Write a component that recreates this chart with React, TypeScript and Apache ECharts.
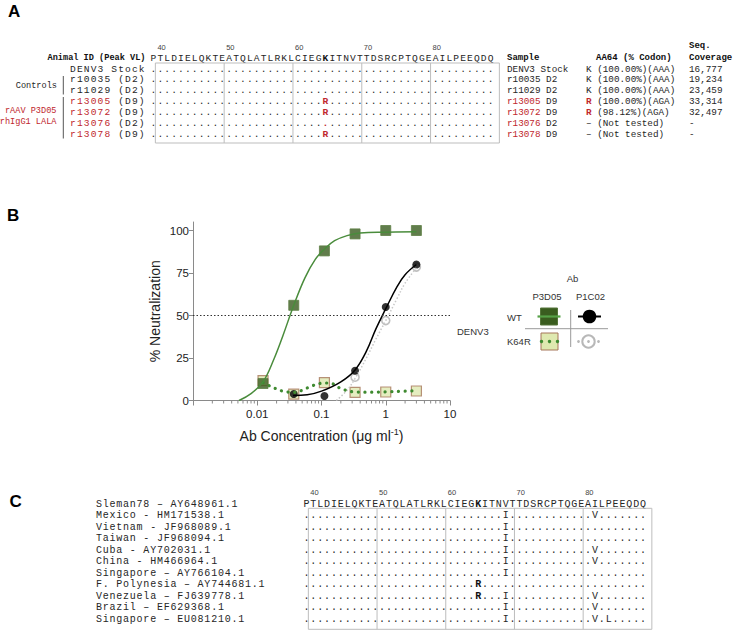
import React, { useEffect, useRef } from "react";
import * as echarts from "echarts";

const W = 733;
const H = 631;
const MONO = "'Liberation Mono', 'DejaVu Sans Mono', monospace";
const SANS = "'Liberation Sans', Arial, Helvetica, sans-serif";
const RED = "#c0272d";
const INK = "#262626";

// ---------------- Shared sequence ----------------
const refSeq = "PTLDIELQKTEATQLATLRKLCIEGKITNVTTDSRCPTQGEAILPEEQDQ";
const firstResidue = 39; // residue number of the first letter
const positionLabels = [40, 50, 60, 70, 80];
const keyResidue = 64; // K64 (shown bold)

// ---------------- Panel A ----------------
const animalIds = ["DENV3 Stock", "r10035", "r11029", "r13005", "r13072", "r13076", "r13078"];
const peakDay = ["", "D2", "D2", "D9", "D9", "D2", "D9"];
const treated = [false, false, false, true, true, true, true];
const aa64Observed = ["", "", "", "R", "R", ".", "R"];
const aa64Call = ["K", "K", "K", "R", "R", "–", "–"];
const aa64Detail = [
  "(100.00%)(AAA)",
  "(100.00%)(AAA)",
  "(100.00%)(AAA)",
  "(100.00%)(AGA)",
  "(98.12%)(AGA)",
  "(Not tested)",
  "(Not tested)",
];
const seqCoverage = ["16,777", "19,234", "23,459", "33,314", "32,497", "-", "-"];

// ---------------- Panel B ----------------
const concentrations = [0.0123, 0.037, 0.111, 0.333, 1, 3];
const p3d05WT = [10, 56, 88, 98, 100, 100];
const p3d05K64R = [11.7, 3.8, 10.5, 4.8, 5.0, 5.6];
const p1c02WTConc = [0.037, 0.111, 0.333, 1, 3];
const p1c02WT = [3.8, 2.6, 17.5, 55, 80];
const p1c02K64RConc = [0.333, 1, 3];
const p1c02K64R = [13.7, 47, 78.5];
// fitted curves
const p3d05WTFitX = [0.0052, 0.008, 0.0123, 0.018, 0.025, 0.037, 0.055, 0.08, 0.111, 0.16, 0.25, 0.4, 1, 3];
const p3d05WTFitY = [0, 4, 11, 24, 38, 56, 72, 83, 89, 94, 97, 98.5, 99, 99.3];
const p3d05K64RFitX = [0.0123, 0.018, 0.025, 0.037, 0.05, 0.07, 0.111, 0.15, 0.2, 0.333, 0.6, 1, 2, 3];
const p3d05K64RFitY = [10.5, 7.5, 5.5, 4.8, 6, 8.5, 10.3, 9.8, 7, 5, 4.9, 5.1, 5.5, 5.8];
const p1c02WTFitX = [0.036, 0.06, 0.1, 0.2, 0.333, 0.5, 0.7, 1, 1.5, 2, 3];
const p1c02WTFitY = [3, 3.4, 5.5, 11, 18, 29, 42, 54, 67, 74, 80];
const p1c02K64RFitX = [0.17, 0.25, 0.333, 0.5, 0.7, 1, 1.5, 2, 3];
const p1c02K64RFitY = [0, 6, 13, 25, 36, 47, 60, 69, 78];
const xTickLabels = ["", "0.01", "0.1", "1", "10"]; // decades 0.001 .. 10
const yTickValues = [0, 25, 50, 75, 100];
const minorMultipliers = [2, 3, 4, 5, 6, 7, 8, 9];
const minorDecades = [0.001, 0.01, 0.1, 1];

// ---------------- Panel C ----------------
const strainNames = [
  "Sleman78 – AY648961.1",
  "Mexico - HM171538.1",
  "Vietnam - JF968089.1",
  "Taiwan - JF968094.1",
  "Cuba - AY702031.1",
  "China - HM466964.1",
  "Singapore – AY766104.1",
  "F. Polynesia – AY744681.1",
  "Venezuela – FJ639778.1",
  "Brazil – EF629368.1",
  "Singapore – EU081210.1",
];
const strainMutations: string[][] = [
  [],
  ["V68I", "I81V"],
  ["V68I"],
  ["V68I"],
  ["V68I", "I81V"],
  ["V68I", "I81V"],
  ["V68I"],
  ["K64R"],
  ["K64R", "V68I", "I81V"],
  ["V68I", "I81V"],
  ["V68I", "I81V", "P83L"],
];

// ---------------- helpers ----------------
type Glyph = { ch: string; fill?: string; fw?: string };

function text(x: number, y: number, t: string, o: any = {}) {
  return {
    type: "text",
    x,
    y,
    silent: true,
    style: {
      text: t,
      fontFamily: o.ff ?? MONO,
      fontSize: o.fs ?? 11,
      fontWeight: o.fw ?? "normal",
      fill: o.fill ?? INK,
      textAlign: o.align ?? "left",
      textVerticalAlign: "middle",
      rich: o.rich,
    },
  };
}

function line(x1: number, y1: number, x2: number, y2: number, stroke = "#bdbdbd", lw = 1) {
  return { type: "line", silent: true, shape: { x1, y1, x2, y2 }, style: { stroke, lineWidth: lw } };
}

// one text per character on a fixed-pitch grid (letter-spaced monospace)
function glyphRow(x0: number, cw: number, y: number, glyphs: Glyph[], fs: number) {
  const out: any[] = [];
  glyphs.forEach((g, i) => {
    if (g.ch === " ") return;
    out.push(text(x0 + (i + 0.5) * cw, y, g.ch, { fs, fill: g.fill ?? INK, fw: g.fw ?? "normal", align: "center" }));
  });
  return out;
}

const plain = (s: string, fill = INK, fw = "normal"): Glyph[] => s.split("").map((ch) => ({ ch, fill, fw }));

// marks: [residueNumber, letter, fill, weight]
function alignmentGlyphs(marks: [number, string, string, string][]): Glyph[] {
  return refSeq.split("").map((_, i) => {
    const m = marks.find((mm) => mm[0] - firstResidue === i);
    return m ? { ch: m[1], fill: m[2], fw: m[3] } : { ch: "." };
  });
}

function headerGlyphs(): Glyph[] {
  return refSeq.split("").map((ch, i) =>
    i === keyResidue - firstResidue ? { ch, fill: "#111", fw: "bold" } : { ch }
  );
}

function alignmentBlock(
  seqX: number, cw: number, fs: number, headerY: number, rowY: number[],
  boxTop: number, boxBottom: number, numY: number, rows: Glyph[][]
) {
  const els: any[] = [];
  positionLabels.forEach((p) => {
    els.push(text(seqX + (p - firstResidue) * cw + 0.5, numY, String(p), { ff: SANS, fs: 7.5, fill: "#444" }));
  });
  els.push(...glyphRow(seqX, cw, headerY, headerGlyphs(), fs));
  const off = 0.78;
  const left = seqX + off * cw;
  const right = seqX + (refSeq.length + off) * cw;
  els.push({
    type: "rect",
    silent: true,
    shape: { x: left, y: boxTop, width: right - left, height: boxBottom - boxTop },
    style: { fill: "none", stroke: "#bdbdbd", lineWidth: 1 },
  });
  for (let k = 1; k < 5; k++) {
    const x = seqX + (10 * k + off) * cw;
    els.push(line(x, boxTop, x, boxBottom));
  }
  rows.forEach((r, i) => els.push(...glyphRow(seqX, cw, rowY[i], r, fs)));
  return els;
}

const richSet = (fs: number) => ({
  n: { fontFamily: MONO, fontSize: fs, fill: INK },
  r: { fontFamily: MONO, fontSize: fs, fill: RED },
  rb: { fontFamily: MONO, fontSize: fs, fill: RED, fontWeight: "bold" },
});

function buildGraphics() {
  const g: any[] = [];
  // panel letters
  g.push(text(8, 11.5, "A", { ff: SANS, fs: 17, fw: "bold", fill: "#000" }));
  g.push(text(7, 215.5, "B", { ff: SANS, fs: 17, fw: "bold", fill: "#000" }));
  g.push(text(9.5, 501.5, "C", { ff: SANS, fs: 17, fw: "bold", fill: "#000" }));

  // ---------- Panel A ----------
  const cwA = 6.88;
  const fsA = 9.6;
  const seqXA = 150;
  const rowYA = animalIds.map((_, i) => 69 + i * 10.9);
  const rowsA = aa64Observed.map((m) =>
    alignmentGlyphs(m ? [[keyResidue, m, RED, "bold"]] : [])
  );
  g.push(...alignmentBlock(seqXA, cwA, fsA, 58, rowYA, 63, 143, 47, rowsA));
  g.push(text(145.5, 58, "Animal ID (Peak VL)", { fs: 8.6, fw: "bold", align: "right", fill: "#111" }));
  animalIds.forEach((id, i) => {
    const glyphs = peakDay[i]
      ? [...plain(id, treated[i] ? RED : INK), ...plain(` (${peakDay[i]})`)]
      : plain(id);
    g.push(...glyphRow(69.5, cwA, rowYA[i], glyphs, fsA));
  });
  g.push(text(57, 85.5, "Controls", { fs: 8.6, align: "right" }));
  g.push(line(63.3, 76, 63.3, 94.5, "#555"));
  g.push(text(56.5, 111, "rAAV P3D05", { fs: 8.6, align: "right", fill: RED }));
  g.push(text(56.5, 121.7, "rhIgG1 LALA", { fs: 8.6, align: "right", fill: RED }));
  g.push(line(63.3, 97, 63.3, 138.5, "#555"));

  // right-hand table
  const fsT = 9.3;
  g.push(text(507, 58, "Sample", { fs: 9, fw: "bold", fill: "#111" }));
  g.push(text(596, 58, "AA64 (% Codon)", { fs: 9, fw: "bold", fill: "#111" }));
  g.push(text(689, 46, "Seq.", { fs: 9, fw: "bold", fill: "#111" }));
  g.push(text(689, 58, "Coverage", { fs: 9, fw: "bold", fill: "#111" }));
  animalIds.forEach((id, i) => {
    const sample = peakDay[i] ? `{${treated[i] ? "r" : "n"}|${id}}{n| ${peakDay[i]}}` : `{n|${id}}`;
    g.push(text(507, rowYA[i], sample, { fs: fsT, rich: richSet(fsT) }));
    const call = aa64Call[i] === "R" ? `{rb|R}` : `{n|${aa64Call[i]}}`;
    g.push(text(586, rowYA[i], `${call}{n| ${aa64Detail[i]}}`, { fs: fsT, rich: richSet(fsT) }));
    g.push(text(689, rowYA[i], seqCoverage[i], { fs: fsT }));
  });

  // ---------- Panel B legend ----------
  const lf = 9.5;
  g.push(text(572.5, 278.5, "Ab", { ff: SANS, fs: lf, align: "center", fill: "#333" }));
  g.push(text(547, 296, "P3D05", { ff: SANS, fs: lf, align: "center", fill: "#333" }));
  g.push(text(590.5, 296, "P1C02", { ff: SANS, fs: lf, align: "center", fill: "#333" }));
  g.push(text(507, 317.5, "WT", { ff: SANS, fs: lf, fill: "#333" }));
  g.push(text(507, 341.5, "K64R", { ff: SANS, fs: lf, fill: "#333" }));
  g.push(text(457, 331, "DENV3", { ff: SANS, fs: lf, fill: "#333" }));
  g.push(line(525, 328.7, 608, 328.7, "#999"));
  g.push(line(570.7, 310, 570.7, 347, "#999"));
  g.push({ type: "rect", silent: true, shape: { x: 540.5, y: 308, width: 17, height: 17 }, style: { fill: "#3a5d1f", stroke: "#55753a", lineWidth: 1 } });
  g.push(line(537.5, 316.5, 560.5, 316.5, "#56a146", 2.2));
  g.push(line(578, 316.5, 601, 316.5, "#000", 2));
  g.push({ type: "circle", silent: true, shape: { cx: 589.5, cy: 316.5, r: 6.8 }, style: { fill: "#000" } });
  g.push({ type: "rect", silent: true, shape: { x: 541, y: 333, width: 17, height: 17 }, style: { fill: "#dfe9b0", stroke: "#a6775a", lineWidth: 1 } });
  [541.5, 549.5, 557.5].forEach((cx) =>
    g.push({ type: "circle", silent: true, shape: { cx, cy: 341.5, r: 1.7 }, style: { fill: "#3f8a30" } })
  );
  g.push({ type: "circle", silent: true, shape: { cx: 588.5, cy: 341.5, r: 6.2 }, style: { fill: "#fff", stroke: "#b8b8b8", lineWidth: 2 } });
  [578.5, 588.5, 598.5].forEach((cx) =>
    g.push({ type: "circle", silent: true, shape: { cx, cy: 341.5, r: 1.4 }, style: { fill: "#b8b8b8" } })
  );

  // ---------- Panel C ----------
  const cwC = 6.87;
  const fsC = 10;
  const seqXC = 303;
  const rowYC = strainNames.map((_, i) => 504 + i * 11.53);
  strainNames.forEach((n, i) => g.push(...glyphRow(95.5, 6.78, rowYC[i], plain(n), fsC)));
  const rowsC = strainMutations.slice(1).map((muts) =>
    alignmentGlyphs(
      muts.map((m) => {
        const pos = parseInt(m.slice(1, -1), 10);
        const to = m[m.length - 1];
        return [pos, to, pos === keyResidue ? "#111" : INK, pos === keyResidue ? "bold" : "normal"] as [number, string, string, string];
      })
    )
  );
  g.push(...alignmentBlock(seqXC, cwC, fsC, rowYC[0], rowYC.slice(1), 508.3, 629.3, 492.3, rowsC));
  return g;
}

function buildOption() {
  const pairs = (xs: number[], ys: number[]) => xs.map((x, i) => [x, ys[i]]);
  const minorTicks: number[][] = [];
  minorDecades.forEach((d) => minorMultipliers.forEach((m) => minorTicks.push([d * m, 0])));
  const axisColor = "#8a8a8a";
  return {
    animation: false,
    backgroundColor: "#fff",
    grid: { left: 193, right: W - 450, top: 222, bottom: H - 400.5, containLabel: false },
    xAxis: {
      type: "log",
      logBase: 10,
      min: 0.001,
      max: 10,
      axisLine: { show: true, lineStyle: { color: axisColor, width: 1 } },
      axisTick: { show: true, length: 5, lineStyle: { color: axisColor } },
      axisLabel: {
        color: "#222",
        fontFamily: SANS,
        fontSize: 11.5,
        margin: 7,
        formatter: (v: number) => xTickLabels[Math.round(Math.log10(v)) + 3] ?? "",
      },
      splitLine: { show: false },
      minorTick: { show: false },
      name: "{n|Ab Concentration (μg ml}{s|-1}{n|)}",
      nameLocation: "middle",
      nameGap: 27,
      nameTextStyle: {
        rich: {
          n: { fontFamily: SANS, fontSize: 14, color: "#222" },
          s: { fontFamily: SANS, fontSize: 9, color: "#222", verticalAlign: "top", padding: [0, 0, 7, 0] },
        },
      },
    },
    yAxis: {
      type: "value",
      min: 0,
      max: 105,
      interval: 25,
      axisLine: { show: true, lineStyle: { color: axisColor, width: 1 } },
      axisTick: { show: true, length: 4, lineStyle: { color: axisColor }, customValues: yTickValues },
      axisLabel: {
        color: "#222",
        fontFamily: SANS,
        fontSize: 11.5,
        margin: 4,
        customValues: yTickValues,
        formatter: (v: number) => (v > 100 ? "" : String(v)),
      },
      splitLine: { show: false },
      name: "% Neutralization",
      nameLocation: "middle",
      nameGap: 31,
      nameRotate: 90,
      nameTextStyle: { fontFamily: SANS, fontSize: 14, color: "#222" },
    },
    graphic: { elements: buildGraphics() },
    series: [
      {
        type: "custom",
        silent: true,
        clip: false,
        data: minorTicks,
        encode: { x: 0, y: 1 },
        renderItem: (_p: any, api: any) => {
          const pt = api.coord([api.value(0), 0]);
          return {
            type: "line",
            shape: { x1: pt[0], y1: pt[1], x2: pt[0], y2: pt[1] + 3 },
            style: { stroke: axisColor, lineWidth: 1 },
          };
        },
      },
      {
        type: "line",
        data: pairs(p1c02K64RFitX, p1c02K64RFitY),
        symbol: "none",
        smooth: 0.4,
        silent: true,
        lineStyle: { color: "#c8c8c8", width: 1.5, type: [1.5, 2] },
        markLine: {
          silent: true,
          symbol: ["none", "none"],
          label: { show: false },
          lineStyle: { color: "#333", width: 1, type: [1.5, 2] },
          data: [{ yAxis: 50 }],
        },
      },
      {
        type: "line",
        data: pairs(p3d05K64RFitX, p3d05K64RFitY),
        symbol: "none",
        smooth: 0.35,
        silent: true,
        lineStyle: { color: "#3f8a30", width: 3.2, type: [0.1, 6.6], cap: "round" },
      },
      {
        type: "line",
        data: pairs(p3d05WTFitX, p3d05WTFitY),
        symbol: "none",
        smooth: 0.4,
        silent: true,
        lineStyle: { color: "#4a8c3c", width: 1.5 },
      },
      {
        type: "line",
        data: pairs(p1c02WTFitX, p1c02WTFitY),
        symbol: "none",
        smooth: 0.4,
        silent: true,
        lineStyle: { color: "#000", width: 1.5 },
      },
      {
        type: "scatter",
        data: pairs(concentrations, p3d05K64R),
        symbol: "rect",
        symbolSize: 10,
        silent: true,
        itemStyle: { color: "#dfe9b0", borderColor: "#a6775a", borderWidth: 1.2 },
      },
      {
        type: "scatter",
        data: pairs(p1c02K64RConc, p1c02K64R),
        symbol: "circle",
        symbolSize: 8,
        silent: true,
        itemStyle: { color: "#fff", borderColor: "#b0b0b0", borderWidth: 1.6 },
      },
      {
        type: "scatter",
        data: pairs(concentrations, p3d05WT),
        symbol: "rect",
        symbolSize: 10,
        silent: true,
        itemStyle: { color: "#3a5d1f", borderColor: "#5f7f45", borderWidth: 1 },
      },
      {
        type: "scatter",
        data: pairs(p1c02WTConc, p1c02WT),
        symbol: "circle",
        symbolSize: 8,
        silent: true,
        itemStyle: { color: "#000" },
      },
    ],
  };
}

export default function App() {
  const ref = useRef<HTMLDivElement>(null);
  useEffect(() => {
    if (!ref.current) return;
    const chart = echarts.init(ref.current, null, { renderer: "svg", width: W, height: H });
    chart.setOption(buildOption() as any);
    return () => chart.dispose();
  }, []);
  return (
    <div
      ref={ref}
      style={{ position: "absolute", left: 0, top: 0, width: W, height: H, background: "#fff" }}
    />
  );
}
